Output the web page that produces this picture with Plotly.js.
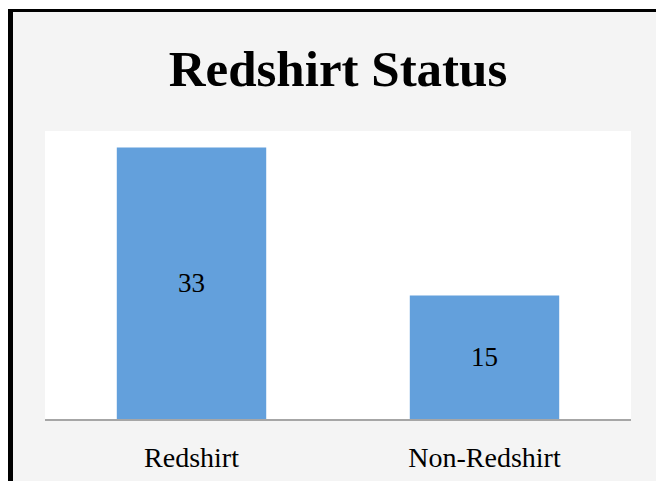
<!DOCTYPE html>
<html>
<head>
<meta charset="utf-8">
<script src="https://cdn.plot.ly/plotly-3.0.1.min.js"></script>
<style>
  html, body { margin: 0; padding: 0; background: #ffffff; width: 656px; height: 481px; overflow: hidden; }
  #wrap { position: absolute; left: 8px; top: 9px; width: 648px; height: 472px; box-sizing: border-box;
          border-left: 5px solid #000; border-top: 3px solid #000; background: #f4f4f4; }
  #chart { width: 643px; height: 469px; }
</style>
</head>
<body>
<div id="wrap"><div id="chart"></div></div>
<script>
const categories = ["Redshirt", "Non-Redshirt"];
const values = [33, 15];
const labels = ["33", "15"];

const serif = "Liberation Serif, Times New Roman, serif";

const trace = {
  type: "bar",
  x: categories,
  y: values,
  text: labels,
  textposition: "inside",
  insidetextanchor: "middle",
  constraintext: "none",
  textangle: 0,
  textfont: { family: serif, size: 27, color: "#000000" },
  marker: { color: "#63a0dc", line: { width: 0 } },
  hoverinfo: "none"
};

const layout = {
  width: 643,
  height: 469,
  margin: { l: 32, r: 25, t: 119, b: 62 },
  paper_bgcolor: "rgba(0,0,0,0)",
  plot_bgcolor: "#ffffff",
  bargap: 0.49,
  showlegend: false,
  title: {
    text: "<b>Redshirt Status</b>",
    font: { family: serif, size: 51, color: "#000000" },
    xref: "paper", x: 0.5, xanchor: "center",
    yref: "container", y: 0.88, yanchor: "middle"
  },
  xaxis: {
    type: "category",
    showline: true, linecolor: "#a6a6a6", linewidth: 2,
    showgrid: false, zeroline: false, ticks: "",
    tickfont: { family: serif, size: 28, color: "#000000" },
    ticklabelstandoff: 12
  },
  yaxis: {
    range: [0, 35],
    showgrid: false, zeroline: false, showline: false,
    showticklabels: false, ticks: ""
  }
};

Plotly.newPlot("chart", [trace], layout, { staticPlot: true, displayModeBar: false });
</script>
</body>
</html>
